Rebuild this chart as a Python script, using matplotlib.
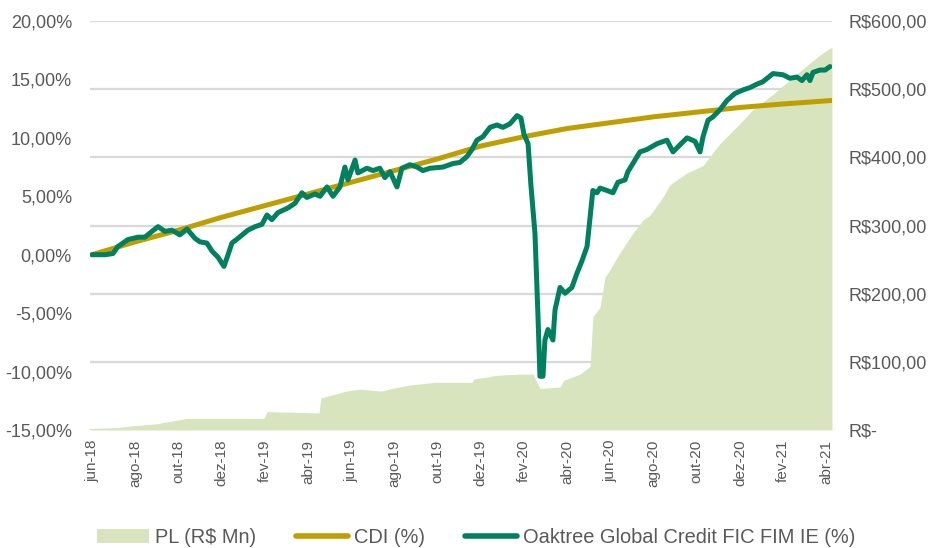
"""PL x CDI x Oaktree Global Credit: retorno acumulado e patrimônio do fundo."""

import matplotlib.pyplot as plt
from matplotlib.lines import Line2D
from matplotlib.patches import Patch
from matplotlib.ticker import FuncFormatter

# Eixo x em meses desde jun-18 (0 = início de jun-18).
month_labels = ["jun-18", "ago-18", "out-18", "dez-18", "fev-19", "abr-19",
                "jun-19", "ago-19", "out-19", "dez-19", "fev-20", "abr-20",
                "jun-20", "ago-20", "out-20", "dez-20", "fev-21", "abr-21"]

# PL do fundo (R$ milhões).
pl_t = [-0.05, 1.16, 1.81, 2.96, 3.66, 4.40, 7.96, 8.10, 10.51, 10.60, 11.76,
        12.41, 13.38, 13.89, 14.72, 15.88, 17.59, 17.69, 18.38, 18.61, 19.77,
        20.42, 20.74, 21.67, 21.85, 22.59, 23.06, 23.19, 23.52, 23.75, 23.98,
        24.44, 25.05, 25.51, 25.83, 26.44, 26.76, 27.55, 28.29, 29.07, 29.86,
        30.60, 31.39, 32.18, 32.92, 33.70, 34.26]
pl_val = [2, 3.5, 6, 9, 13, 17, 17, 27, 25, 47, 57,
          60, 57, 61, 66, 70, 70, 75, 78, 80, 82,
          82, 61, 63, 73, 82, 93, 166, 180, 224, 235,
          260, 289, 308, 315, 342, 360, 377, 388, 420, 445,
          470, 489, 510, 530, 550, 562]

# CDI acumulado (%), a cada mês.
cdi_t = [0, 2, 4, 6, 8, 10, 12, 14, 16, 18, 20, 22, 24, 26, 28, 30, 32, 34.26]
cdi_val = [0.0, 1.1, 2.1, 3.2, 4.2, 5.2, 6.2, 7.2, 8.2, 9.3, 10.1, 10.8,
           11.3, 11.8, 12.2, 12.6, 12.9, 13.2]

# Oaktree Global Credit FIC FIM IE, retorno acumulado (%).
oak_t = [0.00, 0.60, 0.97, 1.20, 1.67, 2.13, 2.45, 2.78, 3.06, 3.38, 3.70,
         4.07, 4.40, 4.77, 5.00, 5.32, 5.56, 5.83, 6.11, 6.30, 6.48, 6.76,
         7.22, 7.55, 7.87, 8.10, 8.33, 8.61, 9.07, 9.40, 9.72, 9.95, 10.32,
         10.56, 10.88, 11.16, 11.48, 11.71, 11.85, 12.18, 12.31, 12.73, 13.01,
         13.33, 13.56, 13.80, 14.12, 14.35, 14.72, 15.05, 15.32, 15.65, 16.25,
         16.71, 17.04, 17.36, 17.59, 17.82, 18.10, 18.43, 18.75, 19.03, 19.35,
         19.68, 19.86, 20.00, 20.19, 20.32, 20.51, 20.65, 20.74, 20.88, 20.97,
         21.11, 21.34, 21.44, 21.67, 21.90, 22.22, 22.45, 22.69, 22.92, 23.19,
         23.38, 23.52, 23.84, 24.12, 24.35, 24.68, 24.81, 25.14, 25.37, 25.69,
         26.16, 26.62, 26.90, 27.22, 27.55, 27.92, 28.15, 28.29, 28.52, 28.75,
         29.07, 29.40, 29.77, 30.14, 30.46, 30.79, 31.06, 31.53, 31.99, 32.31,
         32.64, 32.87, 33.10, 33.24, 33.38, 33.70, 33.94, 34.17]
oak_val = [0.0, 0.0, 0.1, 0.7, 1.3, 1.5, 1.5, 2.0, 2.4, 2.0, 2.1,
           1.7, 2.2, 1.4, 1.1, 1.0, 0.3, -0.2, -1.0, 0.0, 1.0, 1.4,
           2.1, 2.4, 2.6, 3.4, 3.0, 3.6, 4.0, 4.4, 5.3, 4.9, 5.2,
           5.0, 5.8, 5.0, 5.8, 7.5, 6.4, 8.1, 7.0, 7.4, 7.2,
           7.4, 6.6, 7.1, 5.8, 7.4, 7.7, 7.5, 7.2, 7.4, 7.5,
           7.8, 7.9, 8.4, 9.0, 9.8, 10.1, 10.9, 11.1, 10.9, 11.2,
           11.9, 11.7, 10.3, 9.5, 6.0, 1.8, -5.3, -10.4, -10.4, -7.3,
           -6.4, -7.3, -4.7, -2.8, -3.3, -2.8, -1.6, -0.5, 0.7, 5.5,
           5.3, 5.7, 5.5, 5.3, 6.2, 6.4, 7.1, 8.1, 8.8, 9.0,
           9.5, 9.8, 8.8, 9.4, 10.0, 9.7, 8.8, 10.1, 11.5, 11.8,
           12.4, 13.2, 13.8, 14.1, 14.3, 14.6, 14.8, 15.5, 15.4, 15.1,
           15.2, 14.9, 15.4, 14.9, 15.6, 15.8, 15.8, 16.1]

COLORS = {
    "pl": "#D7E4BD",
    "cdi": "#BF9E00",
    "oak": "#00805F",
    "grid": "#D9D9D9",
    "text": "#595959",
}

FONT = ["Liberation Sans Narrow", "Liberation Sans", "DejaVu Sans"]
plt.rcParams["font.family"] = FONT
plt.rcParams["font.size"] = 13

fig = plt.figure(figsize=(9.3, 5.48), dpi=100)
ax2 = fig.add_axes([0.0968, 0.2153, 0.7978, 0.7464])  # PL (direita), atrás
ax = ax2.twinx()
ax.yaxis.tick_left()
ax2.yaxis.tick_right()
ax.set_zorder(ax2.get_zorder() + 1)
ax.patch.set_visible(False)

# Área do PL cobre as linhas de grade, como no original.
ax2.set_axisbelow(True)
ax2.grid(axis="y", color=COLORS["grid"], linewidth=1.6)
ax2.fill_between(pl_t, pl_val, 0, color=COLORS["pl"], linewidth=0, zorder=2)
ax2.set_ylim(0, 600)
ax2.set_yticks(range(0, 601, 100))
ax2.yaxis.set_major_formatter(
    FuncFormatter(lambda v, _: "R$-" if v == 0 else f"R${v:.2f}".replace(".", ",")))

ax.plot(cdi_t, cdi_val, color=COLORS["cdi"], linewidth=3.6, solid_capstyle="round", zorder=3)
ax.plot(oak_t, oak_val, color=COLORS["oak"], linewidth=3.6, solid_capstyle="round",
        solid_joinstyle="round", zorder=4)
ax.set_ylim(-15, 20)
ax.set_yticks(range(-15, 21, 5))
ax.yaxis.set_major_formatter(FuncFormatter(lambda v, _: f"{v:.2f}%".replace(".", ",")))

ax2.set_xlim(-0.09, 34.26)
ax2.set_xticks(range(0, 35, 2))
ax2.set_xticklabels(month_labels, rotation=90)

for a in (ax, ax2):
    for s in a.spines.values():
        s.set_visible(False)
    a.tick_params(length=0, colors=COLORS["text"], labelsize=13)
ax.tick_params(axis="y", pad=13)
ax2.tick_params(axis="y", pad=12)
ax2.tick_params(axis="x", pad=7, labelsize=11)

handles = [
    Patch(facecolor=COLORS["pl"], edgecolor="none", label="PL (R$ Mn)"),
    Line2D([], [], color=COLORS["cdi"], linewidth=4, solid_capstyle="round", label="CDI (%)"),
    Line2D([], [], color=COLORS["oak"], linewidth=4, solid_capstyle="round",
           label="Oaktree Global Credit FIC FIM IE (%)"),
]
leg = fig.legend(handles=handles, loc="center", bbox_to_anchor=(0.512, 0.02), ncol=3,
                 frameon=False, fontsize=14.4, handlelength=2.6, handletextpad=0.3,
                 columnspacing=2.0)
for t in leg.get_texts():
    t.set_color(COLORS["text"])

fig.savefig("out.png", dpi=100)
